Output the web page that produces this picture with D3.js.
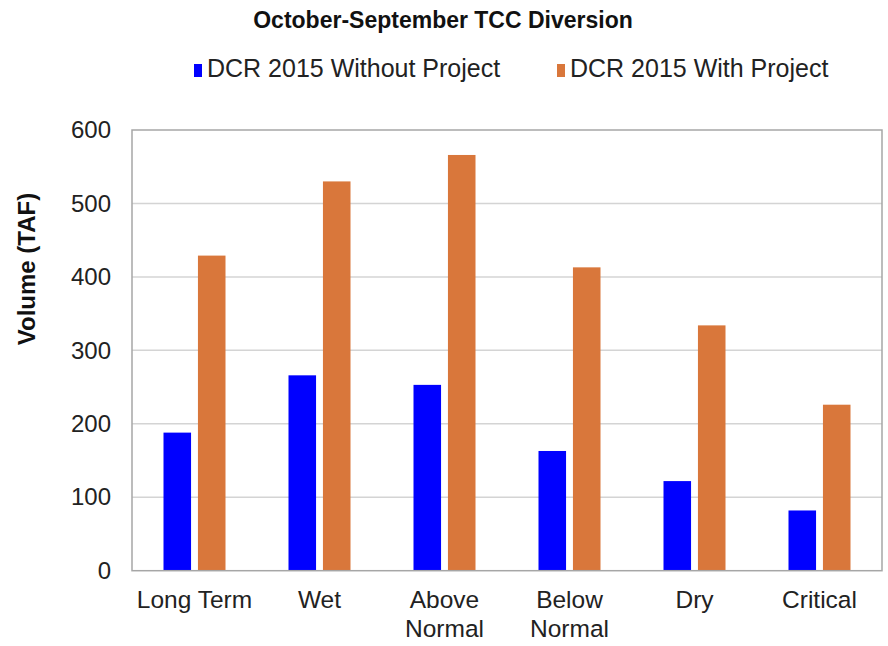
<!DOCTYPE html>
<html><head><meta charset="utf-8">
<script src="https://cdn.jsdelivr.net/npm/d3@7"></script>
<style>body{margin:0;background:#fff}text{font-family:"Liberation Sans",Arial,sans-serif}</style>
</head><body>
<svg id="c" width="888" height="646"></svg>
<script>
const categories = [["Long Term"], ["Wet"], ["Above", "Normal"], ["Below", "Normal"], ["Dry"], ["Critical"]];
const seriesNames = ["DCR 2015 Without Project", "DCR 2015 With Project"];
const withoutProject = [188, 266, 253, 163, 122, 82];
const withProject = [429, 530, 566, 413, 334, 226];
const yTicks = [0, 100, 200, 300, 400, 500, 600];
const colors = ["#0000ff", "#d9773b"];

const svg = d3.select("#c");
const m = {l: 132, r: 882, t: 130, b: 570.7};
const keys = categories.map(c => c.join(" "));
const x = d3.scaleBand().domain(keys).range([m.l, m.r]);
const x1 = d3.scaleBand().domain([0, 1]).range([0, 62]).paddingInner(0.2);
const y = d3.scaleLinear().domain([0, 600]).range([m.b, m.t]);

// gridlines
svg.append("g").selectAll("line").data(yTicks.filter(d => d > 0 && d < 600)).join("line")
  .attr("x1", m.l).attr("x2", m.r).attr("y1", d => y(d)).attr("y2", d => y(d))
  .attr("stroke", "#d4d4d4").attr("stroke-width", 1.5);

// bars
const data = keys.map((k, i) => ({k, v: [withoutProject[i], withProject[i]]}));
const g = svg.append("g").selectAll("g").data(data).join("g")
  .attr("transform", d => `translate(${x(d.k) + x.bandwidth() / 2 - 31},0)`);
g.selectAll("rect").data(d => d.v.map((v, j) => ({v, j}))).join("rect")
  .attr("x", d => x1(d.j)).attr("width", x1.bandwidth())
  .attr("y", d => y(d.v)).attr("height", d => y(0) - y(d.v))
  .attr("fill", d => colors[d.j]);

// plot border
svg.append("rect").attr("x", m.l).attr("y", m.t).attr("width", m.r - m.l).attr("height", m.b - m.t)
  .attr("fill", "none").attr("stroke", "#a6a6a6").attr("stroke-width", 1.5);

// y axis
const ya = svg.append("g").attr("transform", `translate(${m.l},0)`)
  .call(d3.axisLeft(y).tickValues(yTicks).tickSize(0).tickPadding(21));
ya.select(".domain").remove();
ya.selectAll("text").attr("font-size", 24).attr("fill", "#222").attr("font-family", "Liberation Sans, Arial, sans-serif");

// x axis
const xa = svg.append("g").attr("transform", `translate(0,${m.b})`)
  .call(d3.axisBottom(x).tickSize(0).tickFormat(""));
xa.select(".domain").remove();
xa.selectAll(".tick").each(function(d, i) {
  const t = d3.select(this).append("text").attr("fill", "#222").attr("font-size", 24.5)
    .attr("text-anchor", "middle").attr("font-family", "Liberation Sans, Arial, sans-serif");
  categories[i].forEach((line, j) => t.append("tspan").attr("x", 0).attr("y", 37 + j * 29).text(line));
});

// title
svg.append("text").attr("x", 443).attr("y", 28).attr("text-anchor", "middle")
  .attr("font-size", 23).attr("font-weight", "bold").attr("fill", "#111")
  .text("October-September TCC Diversion");

// legend
const legX = [194, 557];
seriesNames.forEach((s, i) => {
  svg.append("rect").attr("x", legX[i]).attr("y", 64).attr("width", 8).attr("height", 13).attr("fill", colors[i]);
  svg.append("text").attr("x", legX[i] + 13).attr("y", 77).attr("font-size", 25).attr("fill", "#222").text(s);
});

// y label
svg.append("text").attr("transform", `translate(35,269) rotate(-90)`)
  .attr("text-anchor", "middle").attr("font-size", 24).attr("font-weight", "bold").attr("fill", "#111")
  .text("Volume (TAF)");
</script>
</body></html>
